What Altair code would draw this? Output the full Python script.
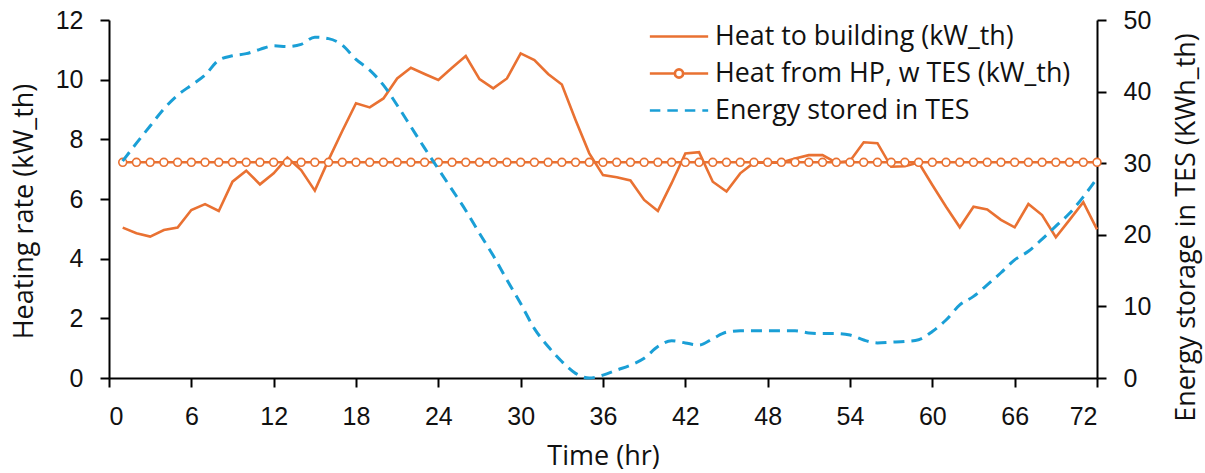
import altair as alt
import pandas as pd

hours = list(range(1, 73))
heat_to_building = [
    5.04, 4.85, 4.74, 4.96, 5.04, 5.63, 5.83, 5.60, 6.58, 6.95,
    6.49, 6.86, 7.39, 6.97, 6.28, 7.31, 8.28, 9.21, 9.07, 9.37,
    10.04, 10.40, 10.19, 9.99, 10.40, 10.79, 10.02, 9.71, 10.04, 10.88,
    10.66, 10.19, 9.84, 8.65, 7.53, 6.80, 6.73, 6.62, 5.97, 5.60,
    6.53, 7.53, 7.57, 6.58, 6.25, 6.86, 7.22, 7.22, 7.22, 7.36,
    7.47, 7.47, 7.22, 7.27, 7.90, 7.87, 7.08, 7.10, 7.22, 6.47,
    5.74, 5.05, 5.74, 5.65, 5.30, 5.05, 5.83, 5.46, 4.72, 5.30,
    5.89, 4.98,
]
heat_from_hp = [7.23] * 72
energy_stored = [
    30.3, 32.8, 35.2, 37.6, 39.5, 40.9, 42.3, 44.4, 45.0, 45.3,
    45.9, 46.4, 46.3, 46.6, 47.6, 47.4, 46.5, 44.5, 43.0, 40.9,
    38.1, 35.1, 32.1, 29.2, 26.3, 23.4, 20.2, 17.1, 13.7, 10.4,
    6.9, 4.4, 2.3, 0.65, 0.0, 0.4, 1.1, 1.8, 2.75, 4.4,
    5.2, 4.9, 4.6, 5.5, 6.4, 6.6, 6.6, 6.6, 6.6, 6.6,
    6.3, 6.2, 6.2, 6.0, 5.3, 4.9, 5.0, 5.1, 5.35, 6.5,
    8.1, 10.2, 11.4, 13.0, 14.7, 16.5, 17.7, 19.4, 21.2, 23.0,
    25.3, 27.9,
]

s_build = "Heat to building (kW_th)"
s_hp = "Heat from HP, w TES (kW_th)"
s_tes = "Energy stored in TES"
series_names = [s_build, s_hp, s_tes]
x_ticks = list(range(0, 73, 6))

ORANGE = "#E97132"
BLUE = "#1A9FD6"
TXT = "#111111"

df_build = pd.DataFrame({"hour": hours, "value": heat_to_building, "series": s_build})
df_hp = pd.DataFrame({"hour": hours, "value": heat_from_hp, "series": s_hp})
df_tes = pd.DataFrame({"hour": hours, "value": energy_stored, "series": s_tes})
df_left = pd.concat([df_build, df_hp], ignore_index=True)

# legend symbols: unit paths (line, line with open circle, dashed line)
path_line = "M-1,0L1,0"
path_circle = ("M-1,0L-0.14,0M0.14,0L1,0M0.14,0A0.14,0.14,0,1,1,-0.14,0"
               "A0.14,0.14,0,1,1,0.14,0")
path_dash = "M-1,0L-0.64,0M-0.4,0L-0.04,0M0.2,0L0.56,0M0.8,0L1,0"

color_scale = alt.Scale(domain=series_names, range=[ORANGE, ORANGE, BLUE])

lab = dict(labelFont="Liberation Sans", labelFontSize=25, labelColor=TXT,
           labelPadding=17, titleFont="Open Sans", titleFontSize=27,
           titleFontWeight="normal", titleColor=TXT)

x_enc = alt.X(
    "hour:Q",
    scale=alt.Scale(domain=[0, 72], nice=False, zero=False),
    axis=alt.Axis(
        values=x_ticks, title="Time (hr)", titleX=494, titleY=78,
        titleBaseline="middle", **lab,
    ),
)

y_left = alt.Y(
    "value:Q",
    scale=alt.Scale(domain=[0, 12], nice=False),
    axis=alt.Axis(
        values=[0, 2, 4, 6, 8, 10, 12], title="Heating rate (kW_th)",
        titleX=-85, titleY=191, titleAngle=-90, titleAlign="center",
        titleBaseline="middle", **lab,
    ),
)

line_build = alt.Chart(df_build).mark_line(strokeWidth=2.6, color=ORANGE).encode(
    x=x_enc, y=y_left,
)
line_hp = alt.Chart(df_hp).mark_line(strokeWidth=2.6, color=ORANGE).encode(
    x=x_enc, y=y_left,
)
pts_hp = alt.Chart(df_hp).mark_point(
    shape="circle", size=62, filled=True, fill="white", stroke=ORANGE,
    strokeWidth=1.6, opacity=1,
).encode(x=x_enc, y=y_left)

legend_layer = alt.Chart(df_left).mark_point(opacity=0, filled=False).encode(
    x=x_enc, y=y_left,
    color=alt.Color(
        "series:N", scale=color_scale,
        legend=alt.Legend(
            title=None, orient="none", legendX=539, legendY=-2,
            symbolSize=3400, symbolStrokeWidth=2.7, symbolOpacity=1,
            symbolFillColor="transparent",
            clipHeight=37, rowPadding=0, padding=0, labelOffset=5,
            labelFont="Open Sans", labelFontSize=26.8, labelColor=TXT,
            labelLimit=600,
        ),
    ),
    shape=alt.Shape(
        "series:N",
        scale=alt.Scale(domain=series_names, range=[path_line, path_circle, path_dash]),
    ),
)

left = alt.layer(line_build, line_hp, pts_hp, legend_layer)

right = alt.Chart(df_tes).mark_line(
    strokeWidth=3, strokeDash=[11, 7], interpolate="monotone", color=BLUE,
).encode(
    x=x_enc,
    y=alt.Y(
        "value:Q",
        scale=alt.Scale(domain=[0, 50], nice=False),
        axis=alt.Axis(
            orient="right", values=[0, 10, 20, 30, 40, 50],
            title="Energy storage in TES (KWh_th)",
            titleX=89, titleY=207, titleAngle=-90, titleAlign="center",
            titleBaseline="middle", **lab,
        ),
    ),
)

chart = alt.layer(left, right).resolve_scale(y="independent").properties(
    width=988, height=358,
    autosize=alt.AutoSizeParams(type="none"),
    padding={"left": 109, "top": 20, "right": 108, "bottom": 95},
    background="white",
).configure_view(stroke=None).configure_axis(
    grid=False,
    domainColor="#000000", domainWidth=2,
    tickColor="#000000", tickWidth=2, tickSize=9,
)

chart.save("out.html", embed_options={"renderer": "svg", "actions": False})
